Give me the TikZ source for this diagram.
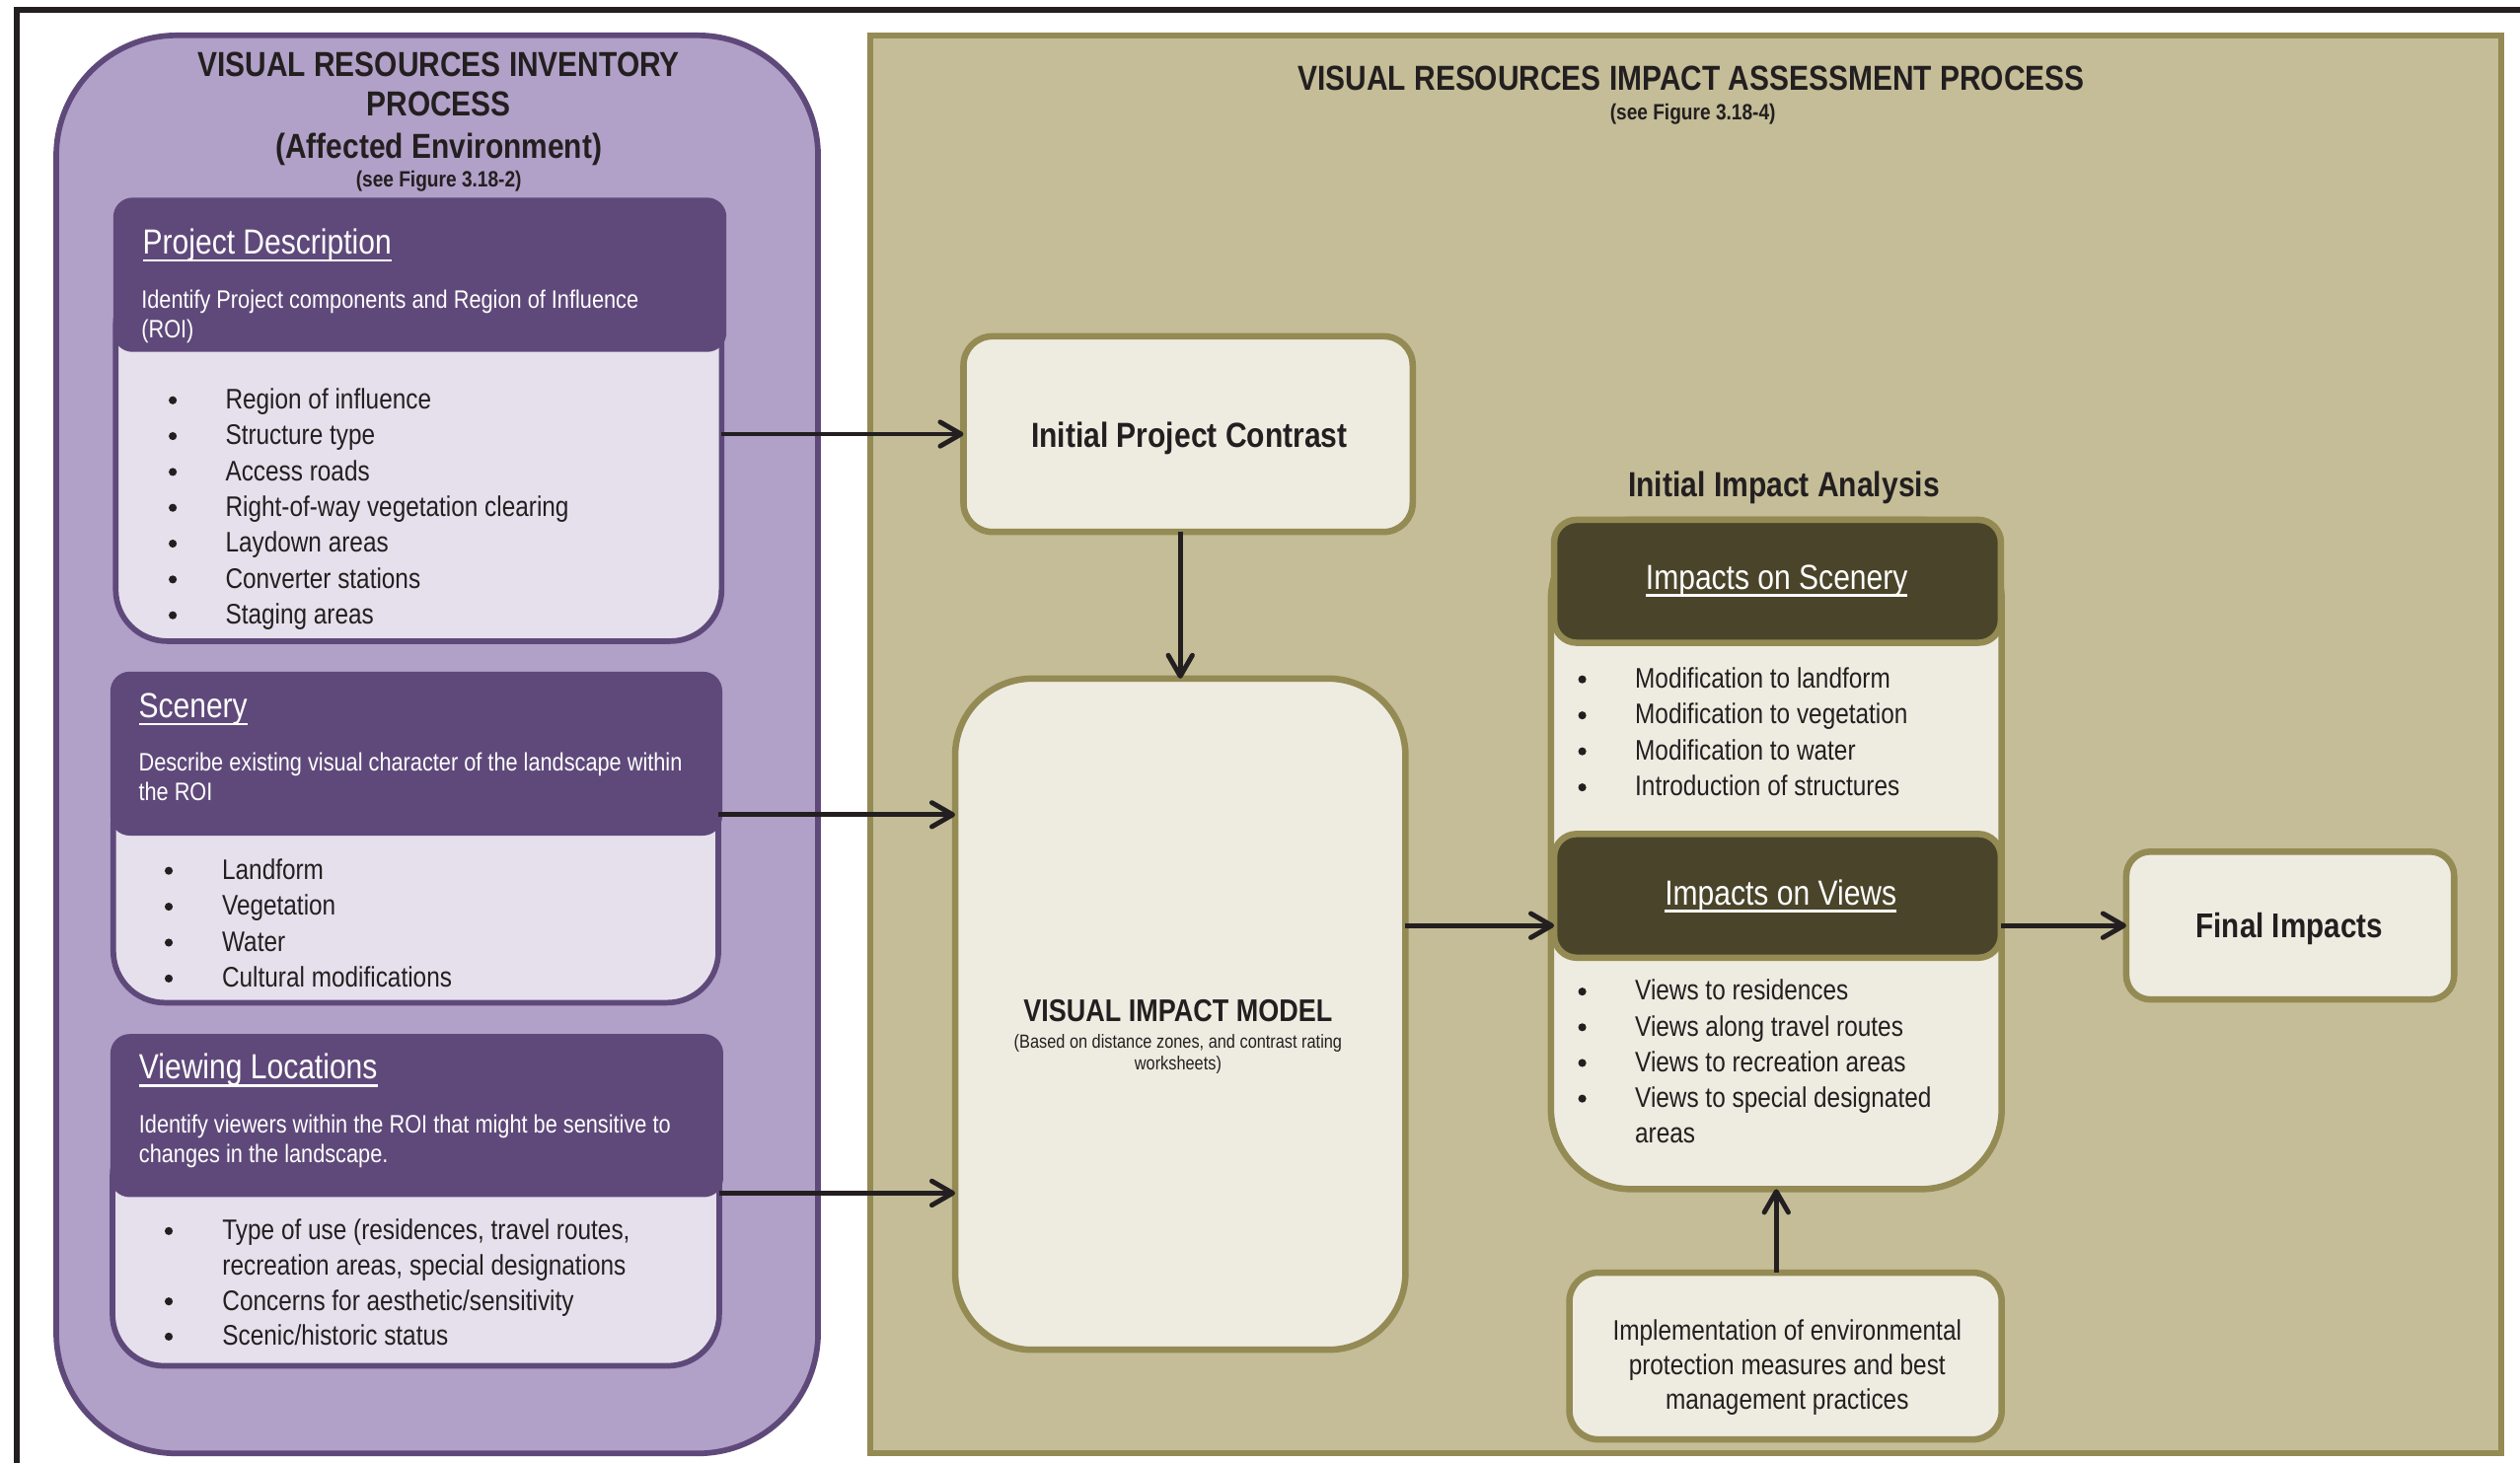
\documentclass[tikz,border=0pt]{standalone}
\usepackage{fontspec}
\setmainfont{Liberation Sans}[FakeStretch=0.85]
\usetikzlibrary{arrows.meta,fit}
\definecolor{pOuter}{HTML}{B1A0C7}
\definecolor{pDark}{HTML}{5F497A}
\definecolor{pLight}{HTML}{E5E0EC}
\definecolor{tFill}{HTML}{C4BD97}
\definecolor{tLine}{HTML}{948A54}
\definecolor{cream}{HTML}{EEECE1}
\definecolor{olive}{HTML}{4A452A}
\definecolor{ink}{HTML}{231F20}
\begin{document}
\begin{tikzpicture}[x=1pt,y=-1pt,
  box/.style={inner sep=0pt, outer sep=0pt},
  tx/.style={inner sep=0pt, outer sep=0pt, text=ink},
  wt/.style={inner sep=0pt, outer sep=0pt, text=white},
  fT/.style={font=\fontsize{21.6}{26}\selectfont\bfseries},
  fS/.style={font=\fontsize{13.8}{16}\selectfont\bfseries},
  fH/.style={font=\fontsize{21.7}{26}\selectfont},
  fHB/.style={font=\fontsize{21.7}{26}\selectfont\bfseries},
  fD/.style={font=\fontsize{15.7}{19}\selectfont},
  fB/.style={font=\fontsize{17.6}{21}\selectfont},
  fV/.style={font=\fontsize{19.5}{23}\selectfont\bfseries},
  fv/.style={font=\fontsize{11.8}{14}\selectfont},
  purplebody/.style={box, draw=pDark, fill=pLight, line width=3.5pt, rounded corners=32pt},
  purplehead/.style={box, fill=pDark, rounded corners=12pt},
  creambox/.style={box, draw=tLine, fill=cream, line width=4pt},
  olivehead/.style={box, draw=tLine, fill=olive, line width=4pt, rounded corners=14pt},
  uline/.style={white, line width=1.5pt},
  arr/.style={draw=ink, line width=3pt, -{Straight Barb[length=13pt,width=15pt,line cap=round,line join=round]}},
]
% canvas
\fill[white] (0,0) rectangle (1568,910);
\path[use as bounding box] (0,0) rectangle (1568,910);
\draw[ink, line width=3.8pt] (10.6,912) -- (10.6,6.3) -- (1570,6.3);

% ---------------- left: inventory process ----------------
\node[box, draw=pDark, fill=pOuter, line width=3.5pt, rounded corners=75pt,
      fit={(35,22) (509,904.5)}] (inv) {};
\node[tx, fT, anchor=base] (invt1) at (273,47.3) {VISUAL RESOURCES INVENTORY};
\node[tx, fT, anchor=base] (invt2) at (273,72) {PROCESS};
\node[tx, fT, anchor=base] (invt3) at (273,98.8) {(Affected Environment)};
\node[tx, fS, anchor=base] (invt4) at (273,116.5) {(see Figure 3.18-2)};

% Project Description
\node[purplebody, fit={(72,170) (449,399)}] (pdb) {};
\node[purplehead, fit={(70.5,123) (452,219)}] (pdh) {};
\node[wt, fH, anchor=base west] (pdt) at (88.8,158) {Project Description};
\draw[uline] ([yshift=-4pt]pdt.base west) -- ([yshift=-4pt]pdt.base east);
\node[wt, fD, anchor=base west] (pdd1) at (88,191.6) {Identify Project components and Region of Influence};
\node[wt, fD, anchor=base west] (pdd2) at (88,210) {(ROI)};
\foreach \t [count=\i from 0] in {Region of influence, Structure type, Access roads,
  Right-of-way vegetation clearing, Laydown areas, Converter stations, Staging areas}{
  \node[tx, fB, anchor=base west] (pdl\i) at (140.3,{254.5+22.3*\i}) {\t};
  \fill[ink] (107.5,{254.5+22.3*\i-5.4}) circle[radius=2.5pt];
}

% Scenery
\node[purplebody, fit={(70.5,480) (447,624)}] (scb) {};
\node[purplehead, fit={(68.7,418) (449.4,520)}] (sch) {};
\node[wt, fH, anchor=base west] (sct) at (86.3,446.5) {Scenery};
\draw[uline] ([yshift=-4pt]sct.base west) -- ([yshift=-4pt]sct.base east);
\node[wt, fD, anchor=base west] (scd1) at (86.3,480) {Describe existing visual character of the landscape within};
\node[wt, fD, anchor=base west] (scd2) at (86.3,498.2) {the ROI};
\foreach \t [count=\i from 0] in {Landform, Vegetation, Water, Cultural modifications}{
  \node[tx, fB, anchor=base west] (scl\i) at (138.2,{547.3+22.35*\i}) {\t};
  \fill[ink] (105,{547.3+22.35*\i-5.4}) circle[radius=2.5pt];
}

% Viewing Locations
\node[purplebody, fit={(70,700) (447.5,850)}] (vlb) {};
\node[purplehead, fit={(68.7,643.5) (450,745)}] (vlh) {};
\node[wt, fH, anchor=base west] (vlt) at (86.5,671.5) {Viewing Locations};
\draw[uline] ([yshift=-4pt]vlt.base west) -- ([yshift=-4pt]vlt.base east);
\node[wt, fD, anchor=base west] (vld1) at (86.5,705) {Identify viewers within the ROI that might be sensitive to};
\node[wt, fD, anchor=base west] (vld2) at (86.5,723.4) {changes in the landscape.};
\node[tx, fB, anchor=base west] (vll0) at (138.4,771.5) {Type of use (residences, travel routes,};
\node[tx, fB, anchor=base west] (vll1) at (138.4,793.2) {recreation areas, special designations};
\node[tx, fB, anchor=base west] (vll2) at (138.4,815.3) {Concerns for aesthetic/sensitivity};
\node[tx, fB, anchor=base west] (vll3) at (138.4,837.2) {Scenic/historic status};
\foreach \y in {771.5,815.3,837.2}{\fill[ink] (105,\y-5.4) circle[radius=2.5pt];}

% ---------------- right: impact assessment ----------------
\node[box, draw=tLine, fill=tFill, line width=3.5pt, fit={(541.5,22) (1556.3,904.3)}] (ias) {};
\node[tx, fT, anchor=base] (iast) at (1052.3,56) {VISUAL RESOURCES IMPACT ASSESSMENT PROCESS};
\node[tx, fS, anchor=base] (iass) at (1053.3,74.5) {(see Figure 3.18-4)};

\node[creambox, rounded corners=18pt, fit={(599.5,209.3) (879,331)}] (ipc) {};
\node[tx, fHB, anchor=base] (ipct) at (740,278.5) {Initial Project Contrast};

\node[creambox, rounded corners=48pt, fit={(594.3,422.3) (874.5,840)}] (vim) {};
\node[tx, fV, anchor=base] (vimt) at (733,636) {VISUAL IMPACT MODEL};
\node[tx, fv, anchor=base] (vims1) at (733,652.6) {(Based on distance zones, and contrast rating};
\node[tx, fv, anchor=base] (vims2) at (733,666) {worksheets)};

\node[tx, fHB, anchor=base] (iiat) at (1110,309) {Initial Impact Analysis};

\node[creambox, rounded corners=50pt, fit={(965,323.5) (1245.5,740)}] (grp) {};
\node[olivehead, fit={(967,323.5) (1245,400)}] (sch2) {};
\node[wt, fH, anchor=base] (ist) at (1105.5,366.6) {Impacts on Scenery};
\draw[uline] ([yshift=-4pt]ist.base west) -- ([yshift=-4pt]ist.base east);
\foreach \t [count=\i from 0] in {Modification to landform, Modification to vegetation,
  Modification to water, Introduction of structures}{
  \node[tx, fB, anchor=base west] (isl\i) at (1017.4,{428.2+22.4*\i}) {\t};
  \fill[ink] (984.5,{428.2+22.4*\i-5.4}) circle[radius=2.5pt];
}

\node[olivehead, fit={(967,519) (1245,596)}] (vwh) {};
\node[wt, fH, anchor=base] (ivt) at (1108,563) {Impacts on Views};
\draw[uline] ([yshift=-4pt]ivt.base west) -- ([yshift=-4pt]ivt.base east);
\foreach \t [count=\i from 0] in {Views to residences, Views along travel routes,
  Views to recreation areas, Views to special designated}{
  \node[tx, fB, anchor=base west] (ivl\i) at (1017.4,{622.5+22.2*\i}) {\t};
  \fill[ink] (984.5,{622.5+22.2*\i-5.4}) circle[radius=2.5pt];
}
\node[tx, fB, anchor=base west] (ivl4) at (1017.4,711.3) {areas};

\node[creambox, rounded corners=15pt, fit={(1323,530) (1527,622)}] (fin) {};
\node[tx, font=\fontsize{21.4}{26}\selectfont\bfseries, anchor=base] (fint) at (1424.5,583.3) {Final Impacts};

\node[creambox, rounded corners=18pt, fit={(976.5,792) (1245.5,895.8)}] (impl) {};
\node[tx, fB, anchor=base] (impl1) at (1112,834.3) {Implementation of environmental};
\node[tx, fB, anchor=base] (impl2) at (1112,855.5) {protection measures and best};
\node[tx, fB, anchor=base] (impl3) at (1112,876.7) {management practices};

% ---------------- connectors ----------------
\draw[arr] (pdb.east |- ipc.west) -- (ipc.west);
\draw[arr] (ipc.south -| vim.north) -- (vim.north);
\draw[arr] (scb.east |- 0,507) -- (vim.west |- 0,507);
\draw[arr] (vlb.east |- 0,742.5) -- (vim.west |- 0,742.5);
\draw[arr] (vim.east |- fin.west) -- (vwh.west |- fin.west);
\draw[arr] (vwh.east |- fin.west) -- (fin.west);
\draw[arr] (impl.north -| grp.south) -- (grp.south);
\end{tikzpicture}
\end{document}
